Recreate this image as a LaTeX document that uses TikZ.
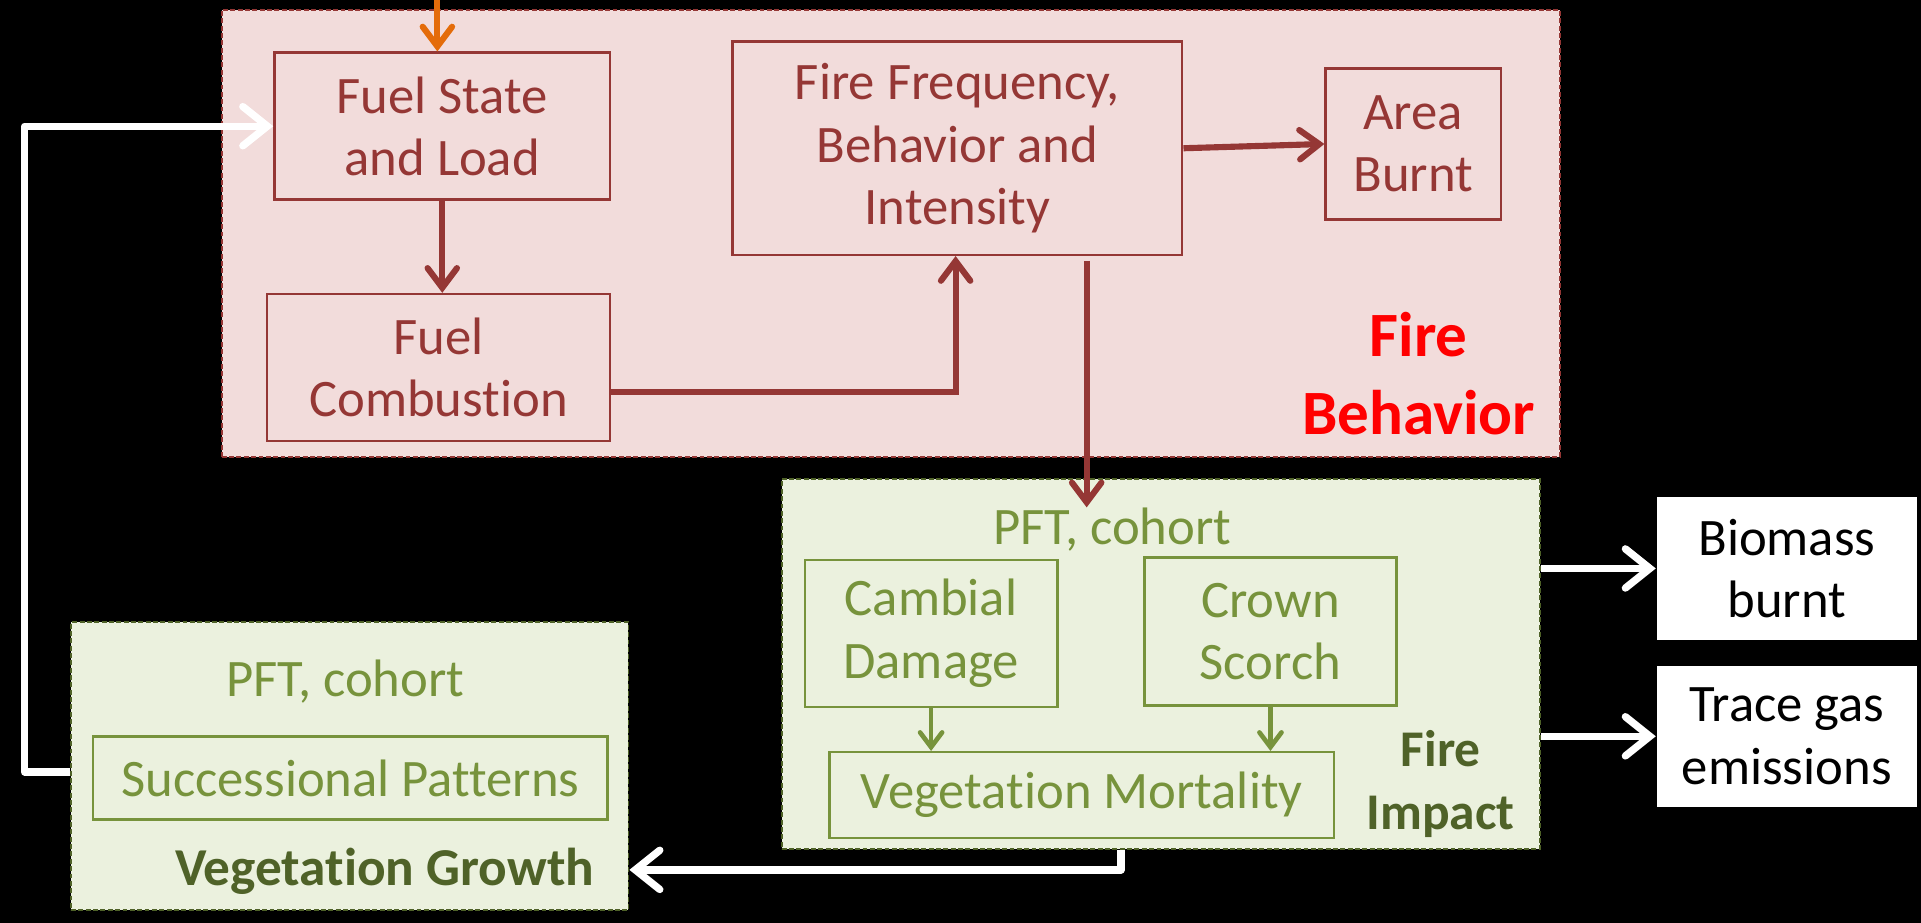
\documentclass[tikz,border=0pt]{standalone}
\usepackage{fontspec}
\setmainfont{Carlito}[Ligatures=NoCommon]
\usetikzlibrary{arrows.meta}
\definecolor{pinkfill}{HTML}{F2DCDB}
\definecolor{darkred}{HTML}{953735}
\definecolor{fireorange}{HTML}{E46C0A}
\definecolor{greenfill}{HTML}{EBF1DE}
\definecolor{olive}{HTML}{77933C}
\definecolor{darkolive}{HTML}{4F6228}
\definecolor{brightred}{HTML}{FF0000}
\tikzset{
  panelfire/.style={draw=darkred, fill=pinkfill, line width=1.5, dash pattern=on 4 off 2, inner sep=0},
  panelgreen/.style={draw=darkolive, fill=greenfill, line width=1.5, dash pattern=on 4 off 2, inner sep=0},
  redbox/.style={draw=darkred, line width=2, text=darkred, align=center, inner sep=0, font=\fontsize{43}{51}\selectfont},
  greenbox/.style={draw=olive, line width=2, text=olive, align=center, inner sep=0, font=\fontsize{43}{51}\selectfont},
  whitebox/.style={draw=black, fill=white, line width=1, text=black, align=center, inner sep=0, font=\fontsize{43}{51}\selectfont},
  redarrow/.style={draw=darkred, line width=5, -{Straight Barb[length=16,width=24,line cap=round]}},
  orangearrow/.style={draw=fireorange, line width=5, -{Straight Barb[length=16,width=24,line cap=round]}},
  whitearrow/.style={draw=white, line width=6, line join=round, -{Straight Barb[length=20,width=32,line cap=round]}},
  greenarrow/.style={draw=olive, line width=3.8, -{Straight Barb[length=12,width=18,line cap=round]}},
  greenlabel/.style={text=olive, inner sep=0, font=\fontsize{43}{51}\selectfont},
}
\begin{document}
\begin{tikzpicture}[x=1pt,y=-1pt]
\fill[black] (0,0) rectangle (1568,753);
\useasboundingbox (0,0) rectangle (1568,753);

% panels
\node[panelfire, minimum width=1092, minimum height=365] (fb) at (727,190.5) {};
\node[panelgreen, minimum width=619, minimum height=302] (fi) at (947.5,542) {};
\node[panelgreen, minimum width=455, minimum height=235] (vg) at (285.5,625.5) {};

% fire behavior boxes
\node[redbox, minimum width=274, minimum height=120] (fuel) at (361,103) {Fuel State\\and Load};
\node[redbox, minimum width=280, minimum height=120] (comb) at (358,300) {Fuel\\Combustion};
\node[redbox, minimum width=367, minimum height=174] (freq) at (781.5,121) {Fire Frequency,\\Behavior and\\Intensity};
\node[redbox, minimum width=143, minimum height=123] (area) at (1153.5,117.5) {Area\\Burnt};
\node[text=brightred, align=center, inner sep=0, font=\fontsize{51.5}{63}\selectfont\bfseries] (fblabel) at (1158,305) {Fire\\Behavior};

% fire impact
\node[greenlabel] (pftfi) at (908,432) {PFT, cohort};
\node[greenbox, minimum width=206, minimum height=120] (camb) at (760,517) {Cambial\\Damage};
\node[greenbox, minimum width=206, minimum height=121] (crown) at (1037,515.5) {Crown\\Scorch};
\node[greenbox, minimum width=412, minimum height=70] (mort) at (883,649) {Vegetation Mortality};
\node[text=darkolive, align=center, inner sep=0, font=\fontsize{42}{51}\selectfont\bfseries] (filabel) at (1176,640) {Fire\\Impact};

% vegetation growth
\node[greenlabel] (pftvg) at (282,556) {PFT, cohort};
\node[greenbox, minimum width=420, minimum height=68] (succ) at (286,635) {Successional Patterns};
\node[text=darkolive, inner sep=0, font=\fontsize{43.5}{51}\selectfont\bfseries] (vglabel) at (314,711) {Vegetation Growth};

% outputs
\node[whitebox, minimum width=213, minimum height=118] (bio) at (1458.5,464) {Biomass\\burnt};
\node[whitebox, minimum width=213, minimum height=116] (trace) at (1458.5,601) {Trace gas\\emissions};

% coordinates
\coordinate (top) at (357,0);
\coordinate (c1) at (780,320);
\coordinate (d1) at (887,213);
\coordinate (w1) at (20,630);
\coordinate (w2) at (915,710);

% red arrows
\draw[orangearrow] (top) -- (top |- fuel.north);
\draw[redarrow] (fuel.south) -- (fuel.south |- comb.north);
\draw[redarrow] (comb.east |- c1) -- (c1) -- (c1 |- freq.south);
\draw[redarrow] (freq.east) -- (area.west);
\draw[redarrow] (d1) -- (d1 |- pftfi.north);

% green arrows
\draw[greenarrow] (camb.south) -- (camb.south |- mort.north);
\draw[greenarrow] (crown.south) -- (crown.south |- mort.north);

% white arrows
\draw[whitearrow] (vg.west |- w1) -- (w1) -- (w1 |- fuel.west) -- (fuel.west);
\draw[whitearrow] (w2 |- fi.south) -- (w2) -- (vg.east |- w2);
\draw[whitearrow] (fi.east |- bio.west) -- (bio.west);
\draw[whitearrow] (fi.east |- trace.west) -- (trace.west);
\end{tikzpicture}
\end{document}
